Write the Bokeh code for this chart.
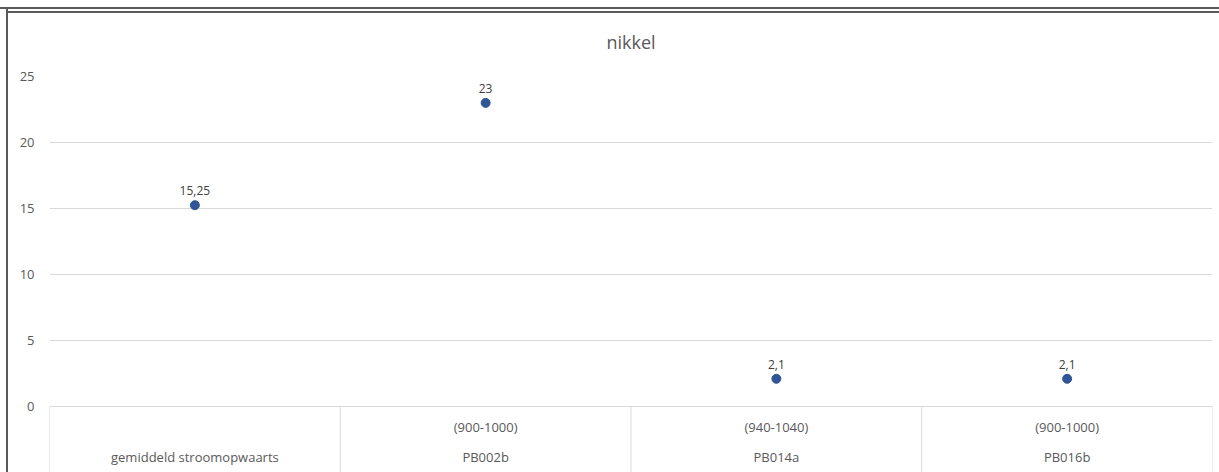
from bokeh.plotting import figure
from bokeh.models import ColumnDataSource, Range1d, FixedTicker, LabelSet
from bokeh.core.properties import value
from bokeh.embed import file_html
from bokeh.resources import INLINE

# ---- data ----
categories = ["gemiddeld stroomopwaarts", "PB002b", "PB014a", "PB016b"]
depths = ["", "(900-1000)", "(940-1040)", "(900-1000)"]
values = [15.25, 23, 2.1, 2.1]
value_labels = ["15,25", "23", "2,1", "2,1"]
y_ticks = [0, 5, 10, 15, 20, 25]

FONT = "Open Sans"
GRID = "#d9d9d9"
TXT = "#595959"
EDGE = "#5a5a5a"

n = len(categories)
xs = [i + 0.5 for i in range(n)]
Y_BOTTOM = -5

p = figure(width=1219, height=472, output_backend="svg", toolbar_location=None,
           x_range=Range1d(0, n), y_range=Range1d(Y_BOTTOM, 25),
           min_border_left=49, min_border_right=7, min_border_top=76, min_border_bottom=0)

p.title.text = "nikkel"
p.title.align = "center"
p.title.text_font = FONT
p.title.text_font_size = "18px"
p.title.text_font_style = "normal"
p.title.text_color = TXT
p.title.offset = -10
p.title.standoff = 46

p.xaxis.visible = False
p.xgrid.visible = False
p.yaxis.ticker = FixedTicker(ticks=y_ticks)
p.ygrid.ticker = FixedTicker(ticks=y_ticks)
p.ygrid.grid_line_color = GRID
p.ygrid.grid_line_width = 1
p.yaxis.axis_line_color = None
p.yaxis.major_tick_line_color = None
p.yaxis.minor_tick_line_color = None
p.yaxis.major_label_text_font = FONT
p.yaxis.major_label_text_font_size = "13px"
p.yaxis.major_label_text_color = TXT
p.yaxis.major_label_standoff = 9
p.outline_line_color = None
p.background_fill_color = "white"
p.border_fill_color = None

# outer chart-area border (left edge and double top edge) painted behind the canvas
p.styles = {
    "background": (
        f"linear-gradient({EDGE},{EDGE}) 6px 8px / 2px 464px no-repeat, "
        f"linear-gradient({EDGE},{EDGE}) 0px 7px / 100% 2px no-repeat, "
        f"linear-gradient({EDGE},{EDGE}) 8px 11px / 100% 2px no-repeat, "
        "white"
    )
}

# category table below the zero line
sep_x = list(range(n + 1))
p.segment(x0=sep_x, y0=[0] * len(sep_x), x1=sep_x, y1=[Y_BOTTOM] * len(sep_x),
          line_color=GRID, line_width=1)

cat_src = ColumnDataSource(dict(x=xs, cat=categories, depth=depths))
p.text(x="x", y=-1.59, text="depth", source=cat_src, text_align="center",
       text_baseline="middle", text_font=value(FONT), text_font_size="13px", text_color=TXT)
p.text(x="x", y=-3.86, text="cat", source=cat_src, text_align="center",
       text_baseline="middle", text_font=value(FONT), text_font_size="13px", text_color=TXT)

# points
src = ColumnDataSource(dict(x=xs, y=values, lab=value_labels))
p.scatter(x="x", y="y", source=src, size=9, fill_color="#2F5597", line_color="#2F5597")
p.add_layout(LabelSet(x="x", y="y", text="lab", source=src, text_align="center",
                      text_baseline="bottom", y_offset=10, text_font=value(FONT),
                      text_font_size="12px", text_color="#404040"))

open("out.html", "w").write(file_html(p, INLINE))
